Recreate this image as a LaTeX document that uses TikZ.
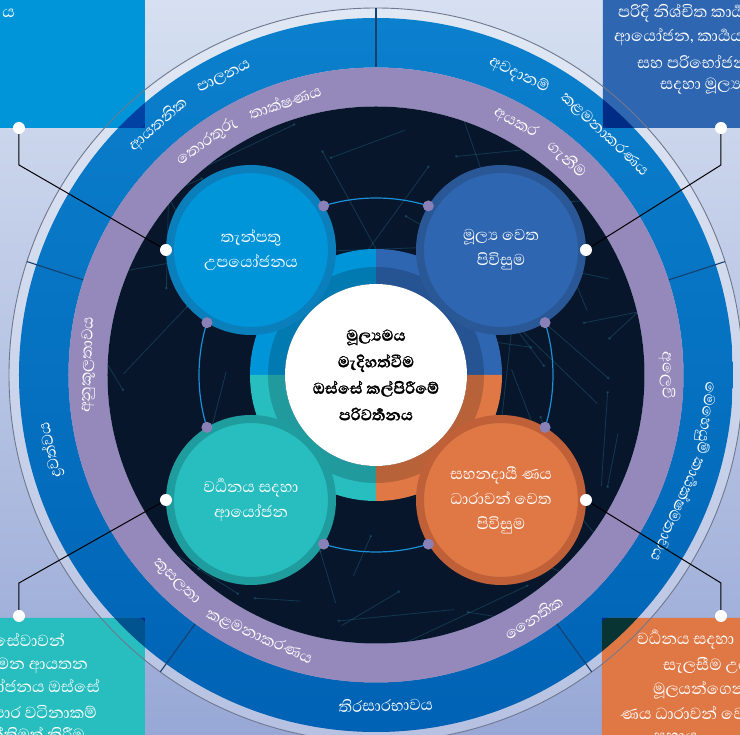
\documentclass[tikz,border=0pt]{standalone}
\usepackage{fontspec}
\newfontfamily\sinfont[Script=Sinhala]{Abhaya Libre}
\newfontfamily\sinheavy[Script=Sinhala, FakeBold=1.2]{Abhaya Libre}
\definecolor{bgtop}{HTML}{D6E0F1}
\definecolor{bgbot}{HTML}{98A8D6}
\definecolor{ringtop}{HTML}{0B80CD}
\definecolor{ringbot}{HTML}{0062B4}
\definecolor{ringmid}{HTML}{0A70C0}
\definecolor{ringpurple}{HTML}{9489BA}
\definecolor{night}{HTML}{07162B}
\definecolor{netcol}{HTML}{2A7A90}
\definecolor{skyblue}{HTML}{0095D9}
\definecolor{skyrim}{HTML}{0A7FBC}
\definecolor{royal}{HTML}{2F66B1}
\definecolor{royalrim}{HTML}{2A5896}
\definecolor{aqua}{HTML}{28BDBF}
\definecolor{aquarim}{HTML}{1F9D9E}
\definecolor{coral}{HTML}{E07846}
\definecolor{coralrim}{HTML}{BF6038}
\definecolor{dotpurple}{HTML}{8A80B8}
\definecolor{linkblue}{HTML}{1C8FD6}
\definecolor{rimgray}{HTML}{6E788E}
\definecolor{divcol}{HTML}{17406F}
\tikzset{
  bubble/.style 2 args={circle, draw=#1, fill=#2, line width=8pt, minimum size=162pt,
    inner sep=0pt, text=white, align=center, font=\sinfont\fontsize{20}{25}\selectfont},
  core/.style={circle, fill=white, minimum size=182pt, inner sep=0pt, align=center,
    font=\sinheavy\bfseries\fontsize{20}{26.5}\selectfont},
  ringlabel/.style={text=white, inner sep=0pt, font=\sinfont\fontsize{20}{22}\selectfont},
  notetext/.style={text=white, inner sep=0pt, font=\sinfont\fontsize{20.5}{24}\selectfont},
  pin/.style={circle, fill=white, minimum size=12pt, inner sep=0pt},
  joint/.style={circle, fill=dotpurple, minimum size=11pt, inner sep=0pt},
  leader/.style={black, line width=1pt},
  netline/.style={netcol, opacity=.35, line width=.8pt},
}
\begin{document}
\begin{tikzpicture}[x=1pt,y=1pt]
\useasboundingbox (-376,-360) rectangle (364,375);
% Backdrop
\shade[top color=bgtop, bottom color=bgbot] (-376,-360) rectangle (364,375);
% Outer band and blue ring
\fill[white, opacity=.3, even odd rule] (0,0) circle (367) (0,0) circle (357);
\shade[top color=ringtop, bottom color=ringbot, even odd rule] (0,0) circle (357) (0,0) circle (307.5);
% Corner notes
\fill[skyblue, rounded corners=6] (-400,247) rectangle (-231,400);
\fill[royal, rounded corners=6] (227,247) rectangle (400,400);
\fill[aqua, rounded corners=6] (-400,-400) rectangle (-231,-243);
\fill[coral, rounded corners=6] (226,-400) rectangle (400,-243);
% Notes darken the ring where they overlap it
\begin{scope}[blend mode=multiply]
\clip (-400,247) rectangle (-231,400) (227,247) rectangle (400,400)
  (-400,-400) rectangle (-231,-243) (226,-400) rectangle (400,-243);
\fill[ringmid, even odd rule] (0,0) circle (357) (0,0) circle (307.5);
\end{scope}
\draw[rimgray, line width=.9pt] (0,0) circle (367);
\foreach \a in {90,18,-54,-126,162}
  \draw[divcol, line width=1.1pt] (\a:307.5) -- (\a:367);
% Purple ring and dark core
\fill[ringpurple, even odd rule] (0,0) circle (307.5) (0,0) circle (268.5);
\fill[night] (0,0) circle (268.5);
% Network texture
\begin{scope}
\clip (0,0) circle (268.5);
\pgfmathsetseed{11}
\foreach \i in {1,...,70}{
  \pgfmathsetmacro\px{rand*255}
  \pgfmathsetmacro\py{rand*255}
  \pgfmathsetmacro\pa{rnd*360}
  \pgfmathsetmacro\pl{40+rnd*110}
  \draw[netline] (\px,\py) -- ++(\pa:\pl);
  \fill[netline] (\px,\py) circle (1.5);
}
\end{scope}
% Ring labels, upper half
\foreach \a/\r/\t/\n in {131/332/ආයතනික/gova, 117/334/පාලනය/govb,
    64.5/332/අවදානම්/riska, 46.5/332/කළමනාකරණය/riskb,
    193/334/ද්^^^^200dරවත්වය/liquid,
    -7.4/332/මෙහෙයුම්/opsa, -24/332/කාර්^^^^200dයක්ෂමතාවය/opsb,
    126/288/තොරතුරු/ita, 108.5/288/තාක්ෂණය/itb,
    61/288/අයකර/reca, 48.5/288/ගැනීම/recb,
    0/291/අලෙවි/market, 178/288/අනුකූලතාවය/comply}
  \node[ringlabel, rotate=\a-90] (\n) at (\a:\r) {\t};
% Ring labels, lower half
\foreach \a/\r/\t/\n in {-88.3/330/තිරසාරභාවය/sustain,
    -57/289/නෛතික/legal, -134/288/කුසලතා/talenta, -114/287/කළමනාකරණය/talentb}
  \node[ringlabel, rotate=\a+90] (\n) at (\a:\r) {\t};
% Link circle
\draw[linkblue, line width=1.2pt] (0,0) circle (177);
% Quadrant ring round the centre
\fill[royal] (0:91) -- (0:126) arc (0:90:126) -- (90:91) arc (90:0:91) -- cycle;
\fill[skyblue] (90:91) -- (90:126) arc (90:180:126) -- (180:91) arc (180:90:91) -- cycle;
\fill[aqua] (180:91) -- (180:126) arc (180:270:126) -- (270:91) arc (270:180:91) -- cycle;
\fill[coral] (270:91) -- (270:126) arc (270:360:126) -- (360:91) arc (360:270:91) -- cycle;
\fill[black, opacity=.18] (0,0) circle (108);
% Bubbles
\node[bubble={skyrim}{skyblue}] (tlbub) at (-125,125) {තැන්පතු\\උපයෝජනය};
\node[bubble={royalrim}{royal}] (trbub) at (125,125) {මූල්^^^^200dය වෙත\\පිවිසුම};
\node[bubble={aquarim}{aqua}] (blbub) at (-125,-125) {වර්^^^^200dධනය සදහා\\ආයෝජන};
\node[bubble={coralrim}{coral}] (brbub) at (125,-125) {සහනදායී ණය\\ධාරාවන් වෙත\\පිවිසුම};
\foreach \a [count=\k] in {17.2,72.8,107.2,162.8,197.2,252.8,287.2,342.8}
  \node[joint] (joint\k) at (\a:177) {};
% Centre
\node[core] (core) at (0,0) {මූල්^^^^200dයමය\\මැදිහත්වීම\\ඔස්සේ කල්පිරීමේ\\පරිවර්^^^^200dතනය};
% Leaders to the notes
\node[pin] (tlknob) at (tlbub.west) {};
\node[pin] (trknob) at (trbub.east) {};
\node[pin] (blknob) at (blbub.west) {};
\node[pin] (brknob) at (brbub.east) {};
\node[pin] (tlpin) at (-357,247) {};
\node[pin] (trpin) at (345,247) {};
\node[pin] (blpin) at (-357,-241) {};
\node[pin] (brpin) at (345,-241) {};
\coordinate (tlbend) at (-357,210);
\coordinate (trbend) at (345,210);
\coordinate (blbend) at (-357,-208);
\coordinate (brbend) at (345,-208);
\draw[leader] (tlknob) -- (tlbend) -- (tlpin);
\draw[leader] (trknob) -- (trbend) -- (trpin);
\draw[leader] (blknob) -- (blbend) -- (blpin);
\draw[leader] (brknob) -- (brbend) -- (brpin);
% Note texts, cut by the page edge
\node[notetext, anchor=east] (tlnote) at (-361,362) {ය};
\node[notetext, anchor=west] (trnotea) at (242,362) {පරිදි නිශ්චිත කාර්^^^^200dය};
\node[notetext, anchor=west] (trnoteb) at (238,338) {ආයෝජන, කාර්^^^^200dයයන්};
\node[notetext, anchor=west] (trnotec) at (261,313) {සහ පරිභෝජනය};
\node[notetext, anchor=west] (trnoted) at (284,289) {සදහා මූල්^^^^200dය};
\node[notetext, anchor=east] (blnotea) at (-311,-265) {සේවාවන්};
\node[notetext, anchor=east] (blnoteb) at (-288,-291) {ගමන ආයතන};
\node[notetext, anchor=east] (blnotec) at (-276,-313) {ආයෝජනය ඔස්සේ};
\node[notetext, anchor=east] (blnoted) at (-279,-337) {ව්^^^^200dයාපාර වටිනාකම්};
\node[notetext, anchor=east] (blnotee) at (-291,-359) {ශක්තිමත් කිරීම};
\node[notetext, anchor=west] (brnotea) at (261,-265) {වර්^^^^200dධනය සදහා};
\node[notetext, anchor=west] (brnoteb) at (287,-291) {සැලසීම උදෙසා};
\node[notetext, anchor=west] (brnotec) at (277,-315) {මූලයන්ගෙන්};
\node[notetext, anchor=west] (brnoted) at (244,-338) {ණය ධාරාවන් වෙත};
\node[notetext, anchor=west] (brnotee) at (277,-362) {සහාය};
\end{tikzpicture}
\end{document}
